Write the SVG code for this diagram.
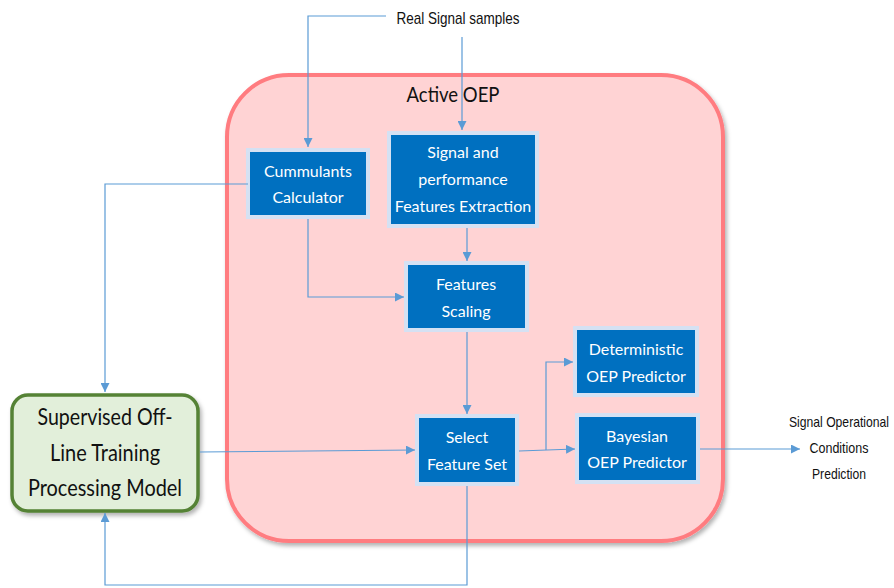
<svg xmlns="http://www.w3.org/2000/svg" width="894" height="588" viewBox="0 0 894 588">
<defs>
<filter id="sh" x="-10%" y="-10%" width="120%" height="120%"><feDropShadow dx="2" dy="3" stdDeviation="2" flood-color="#000" flood-opacity="0.3"/></filter>
<marker id="ar" viewBox="0 0 10 10" refX="10" refY="5" markerWidth="9" markerHeight="9" markerUnits="userSpaceOnUse" orient="auto"><path d="M0,0 L10,5 L0,10 z" fill="#5b9bd5"/></marker>
<style>
.blk rect{fill:#0070c0;stroke:#d5e1f3;stroke-width:4}
.bt{font-family:Lato,"Noto Sans",sans-serif;font-size:16px;fill:#fff;text-anchor:middle}
.nt{font-family:"Liberation Sans",Arial,sans-serif;font-size:17px;fill:#111;text-anchor:middle}
.pt{font-family:"Liberation Sans",Arial,sans-serif;font-size:15px;fill:#111;text-anchor:middle}
.st{font-family:Lato,"Noto Sans",sans-serif;font-size:23px;fill:#111;text-anchor:middle}
.c path{fill:none;stroke:#5b9bd5;stroke-width:1.2}
</style>
</defs>
<rect width="894" height="588" fill="#fff"/>
<g id="active-oep">
<rect x="227" y="75" width="496" height="466" rx="62" fill="#ffd3d4" stroke="#ff7c80" stroke-width="4" filter="url(#sh)"/>
<text x="453" y="102" font-family="Lato,'Noto Sans',sans-serif" font-size="22" fill="#111" text-anchor="middle" textLength="93" lengthAdjust="spacingAndGlyphs">Active OEP</text>
</g>
<g id="supervised">
<rect x="12" y="395" width="186" height="116" rx="16" fill="#e2efda" stroke="#548235" stroke-width="3.5" filter="url(#sh)"/>
<text class="st" x="105" y="425" textLength="135" lengthAdjust="spacingAndGlyphs">Supervised Off-</text>
<text class="st" x="105" y="461" textLength="110" lengthAdjust="spacingAndGlyphs">Line Training</text>
<text class="st" x="105" y="496" textLength="154" lengthAdjust="spacingAndGlyphs">Processing Model</text>
</g>
<g id="real-signal"><text class="nt" x="458" y="24" textLength="123" lengthAdjust="spacingAndGlyphs">Real Signal samples</text></g>
<g id="cummulants" class="blk"><rect x="248" y="150" width="120" height="67"/><text class="bt"><tspan x="308" y="177">Cummulants</tspan><tspan x="308" y="203">Calculator</tspan></text></g>
<g id="extraction" class="blk"><rect x="389" y="133" width="148" height="93"/><text class="bt"><tspan x="463" y="158">Signal and</tspan><tspan x="463" y="185">performance</tspan><tspan x="463" y="212">Features Extraction</tspan></text></g>
<g id="scaling" class="blk"><rect x="406" y="263" width="121" height="67"/><text class="bt"><tspan x="466" y="290">Features</tspan><tspan x="466" y="317">Scaling</tspan></text></g>
<g id="select" class="blk"><rect x="417" y="416" width="100" height="68"/><text class="bt"><tspan x="467" y="443">Select</tspan><tspan x="467" y="470">Feature Set</tspan></text></g>
<g id="deterministic" class="blk"><rect x="575" y="328" width="122" height="67"/><text class="bt"><tspan x="636" y="355">Deterministic</tspan><tspan x="636" y="382">OEP Predictor</tspan></text></g>
<g id="bayesian" class="blk"><rect x="577" y="415" width="121" height="67"/><text class="bt"><tspan x="637" y="442">Bayesian</tspan><tspan x="637" y="468">OEP Predictor</tspan></text></g>
<g id="prediction">
<text class="pt" x="839" y="427" textLength="100" lengthAdjust="spacingAndGlyphs">Signal Operational</text>
<text class="pt" x="839" y="453" textLength="59" lengthAdjust="spacingAndGlyphs">Conditions</text>
<text class="pt" x="839" y="479" textLength="54" lengthAdjust="spacingAndGlyphs">Prediction</text>
</g>
<g id="connectors" class="c">
<path d="M386,16 H308 V147" marker-end="url(#ar)"/>
<path d="M462,37 V130" marker-end="url(#ar)"/>
<path d="M248,184 H105 V392" marker-end="url(#ar)"/>
<path d="M308,219 V297 H404" marker-end="url(#ar)"/>
<path d="M467,228 V261" marker-end="url(#ar)"/>
<path d="M467,332 V414" marker-end="url(#ar)"/>
<path d="M200,452 L415,450" marker-end="url(#ar)"/>
<path d="M519,451 L575,449" marker-end="url(#ar)"/>
<path d="M546,450 V362 H573" marker-end="url(#ar)"/>
<path d="M700,449 H800" marker-end="url(#ar)"/>
<path d="M467,486 V585 H105 V513" marker-end="url(#ar)"/>
</g>
</svg>
